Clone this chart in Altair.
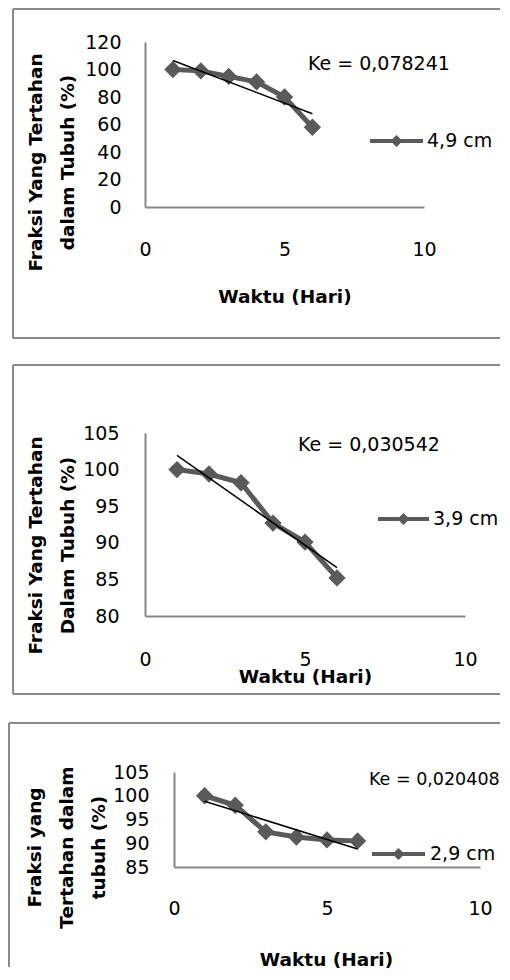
import altair as alt
import pandas as pd

# ---------------- data ----------------
days = [1, 2, 3, 4, 5, 6]
frac_49 = [100, 99, 95, 91, 80, 58]
frac_39 = [100, 99.4, 98.2, 92.7, 90.1, 85.2]
frac_29 = [100, 98, 92.4, 91.3, 90.7, 90.5]
series_names = ["4,9 cm", "3,9 cm", "2,9 cm"]
ke_labels = ["Ke = 0,078241", "Ke = 0,030542", "Ke = 0,020408"]
y_titles = [
    ["Fraksi Yang Tertahan", "dalam Tubuh (%)"],
    ["Fraksi Yang Tertahan", "Dalam Tubuh (%)"],
    ["Fraksi yang", "Tertahan dalam", "tubuh (%)"],
]
x_title = "Waktu (Hari)"
x_ticks = [0, 5, 10]
y_ticks_1 = [0, 20, 40, 60, 80, 100, 120]
y_ticks_2 = [80, 85, 90, 95, 100, 105]
y_ticks_3 = [85, 90, 95, 100, 105]

# ---------------- style ----------------
FONT = "DejaVu Sans"
SERIES = "#5a5a5a"
AXIS = "#878787"
BORDER = "#8a8a8a"
LFS = 19
TFS = 18.5
OX = 145  # common page x of every panel's plot origin


def panel(values, name, ke, ytitle, yticks, ydom, w, h, oy, lay, xrange=None, yoff=0):
    df = pd.DataFrame({"x": days, "y": values})
    one = pd.DataFrame({"k": [0]})
    if xrange is None:
        xs = alt.Scale(domain=[0, 10], nice=False, zero=False)
    else:
        xs = alt.Scale(domain=[0, 10], nice=False, zero=False, range=xrange)
    ys = alt.Scale(domain=ydom, nice=False, zero=False)
    xax = alt.Axis(values=x_ticks, title=x_title, grid=False, ticks=False, tickSize=0,
                   domainColor=AXIS, domainWidth=2, labelFont=FONT, labelFontSize=LFS,
                   labelColor="#000", labelPadding=lay["xlp"], labelFlush=False, labelOverlap=False,
                   titleFont=FONT, titleFontSize=TFS, titleFontWeight="bold", titleColor="#000",
                   titleX=lay["xtx"] - OX, titleY=lay["xty"] - (oy + h), titleAlign="center",
                   titleBaseline="middle")
    yax = alt.Axis(values=yticks, title=ytitle, grid=False, ticks=False, tickSize=0,
                   domainColor=AXIS, domainWidth=2, labelFont=FONT, labelFontSize=LFS,
                   labelColor="#000", labelPadding=lay["ylp"], labelFlush=False, labelOverlap=False,
                   titleFont=FONT, titleFontSize=TFS, titleFontWeight="bold", titleColor="#000",
                   titleAngle=270, titleX=lay["ytx"] - (OX + yoff), titleY=lay["yty"] - oy,
                   titleAlign="center", titleBaseline="middle", titleLineHeight=32,
                   offset=-yoff)
    X = alt.X("x:Q", scale=xs, axis=xax)
    Y = alt.Y("y:Q", scale=ys, axis=yax)
    base = alt.Chart(df)
    line = base.mark_line(color=SERIES, strokeWidth=5).encode(x=X, y=Y)
    pts = base.mark_point(shape="diamond", filled=True, size=300, color=SERIES, opacity=1).encode(x=X, y=Y)
    trend = base.transform_regression("x", "y").mark_line(color="black", strokeWidth=1.5).encode(x=X, y=Y)

    px = lambda v: v - OX
    py = lambda v: v - oy
    oc = alt.Chart(one)
    layers = []
    # invisible anchor that fixes the panel's bounds (layout)
    layers.append(oc.mark_rule(color="white", strokeWidth=1).encode(
        x=alt.value(px(8.5)), y=alt.value(py(lay["ay0"])), y2=alt.value(py(lay["ay1"]))))
    # frame
    bl, bt, bb, br = px(lay["bl"]), py(lay["bt"]), py(lay["bb"]), px(lay["br"])
    layers.append(oc.mark_rule(color=BORDER, strokeWidth=2).encode(
        x=alt.value(bl), y=alt.value(bt), y2=alt.value(bb)))
    layers.append(oc.mark_rule(color=BORDER, strokeWidth=2).encode(
        x=alt.value(bl), x2=alt.value(br), y=alt.value(bt)))
    if lay.get("has_bottom"):
        layers.append(oc.mark_rule(color=BORDER, strokeWidth=2).encode(
            x=alt.value(bl), x2=alt.value(br), y=alt.value(bb)))
    layers += [line, pts, trend]
    # Ke annotation
    layers.append(oc.mark_text(text=ke, font=FONT, fontSize=lay["kfs"], align="left",
                               baseline="middle", color="#000").encode(
        x=alt.value(px(lay["kx"])), y=alt.value(py(lay["ky"]))))
    # legend
    layers.append(oc.mark_rule(color=SERIES, strokeWidth=4).encode(
        x=alt.value(px(lay["lx0"])), x2=alt.value(px(lay["lx1"])), y=alt.value(py(lay["ly"]))))
    layers.append(oc.mark_point(shape="diamond", filled=True, size=150, color=SERIES, opacity=1).encode(
        x=alt.value(px((lay["lx0"] + lay["lx1"]) / 2)), y=alt.value(py(lay["ly"]))))
    layers.append(oc.mark_text(text=name, font=FONT, fontSize=LFS, align="left",
                               baseline="middle", color="#000").encode(
        x=alt.value(px(lay["ltx"])), y=alt.value(py(lay["ly"]))))
    return alt.layer(*layers).properties(width=w, height=h)


lay1 = dict(xlp=33, ylp=24, xtx=284.5, xty=296, ytx=35, yty=162,
            ay0=8.5, ay1=350.5, bl=13, bt=9, bb=338, br=500, has_bottom=True,
            kx=308, ky=64, kfs=LFS, lx0=370, lx1=423, ly=141, ltx=427)
lay2 = dict(xlp=34, ylp=26, xtx=305, xty=676, ytx=35, yty=545,
            ay0=351.5, ay1=707.5, bl=13, bt=365, bb=694, br=500, has_bottom=True,
            kx=298, ky=445, kfs=LFS, lx0=378, lx1=429, ly=519, ltx=433)
lay3 = dict(xlp=32, ylp=25, xtx=326, xty=959, ytx=34, yty=847,
            ay0=708.5, ay1=967, bl=9, bt=723, bb=967, br=500,
            kx=369, ky=780, kfs=17.5, lx0=372, lx1=425, ly=854, ltx=430)

p1 = panel(frac_49, series_names[0], ke_labels[0], y_titles[0], y_ticks_1, [0, 120],
           279, 165, 42, lay1)
p2 = panel(frac_39, series_names[1], ke_labels[1], y_titles[1], y_ticks_2, [80, 105],
           320, 183, 433, lay2)
p3 = panel(frac_29, series_names[2], ke_labels[2], y_titles[2], y_ticks_3, [85, 105],
           335, 95, 772, lay3, xrange=[29, 335], yoff=29)

chart = alt.vconcat(p1, p2, p3, spacing=0).properties(
    padding=0, background="white").configure_view(strokeWidth=0).configure_axis(labelOverlap=False)

chart.save("out.html", embed_options={"renderer": "svg", "actions": False})
